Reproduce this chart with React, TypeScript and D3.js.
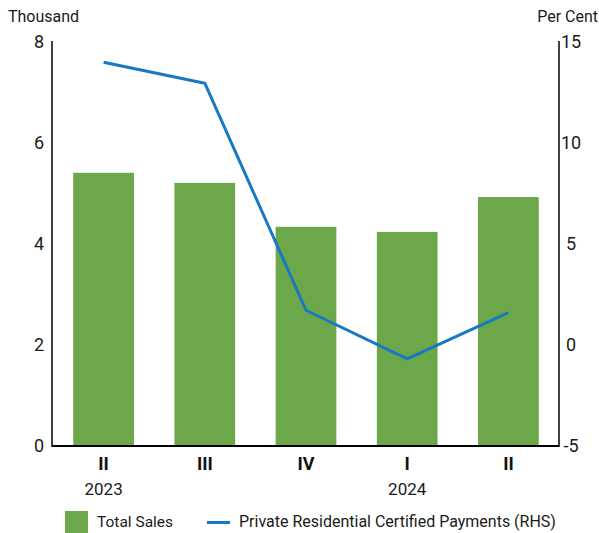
import React from "react";
import * as d3 from "d3";

const quarters = ["II", "III", "IV", "I", "II"];
const years = ["2023", "", "", "2024", ""];
const totalSales = [5.41, 5.21, 4.34, 4.24, 4.93];
const certifiedPayments = [14.0, 12.96, 1.72, -0.69, 1.6];
const leftTicks = [0, 2, 4, 6, 8];
const rightTicks = [-5, 0, 5, 10, 15];

const W = 599;
const H = 533;
const margin = { top: 42, right: 40, bottom: 87, left: 53 };
const FONT = "Roboto, 'DejaVu Sans', sans-serif";

const App = () => {
  const x = d3
    .scaleBand()
    .domain(quarters.map((_, i) => String(i)))
    .range([margin.left, W - margin.right])
    .paddingInner(0.4)
    .paddingOuter(0.2);

  const yLeft = d3.scaleLinear().domain([0, 8]).range([H - margin.bottom, margin.top]);
  const yRight = d3.scaleLinear().domain([-5, 15]).range([H - margin.bottom, margin.top]);

  const line = d3
    .line<number>()
    .x((_, i) => (x(String(i)) as number) + x.bandwidth() / 2)
    .y((d) => yRight(d));

  const x0 = margin.left - 1;
  const x1 = W - margin.right;
  const yBase = H - margin.bottom;

  return (
    <div style={{ position: "absolute", left: 0, top: 0 }}>
      <svg width={W} height={H} style={{ display: "block", fontFamily: FONT }}>
        <text x={8} y={22} fontSize={16} fill="#1a1a1a">Thousand</text>
        <text x={598} y={22} fontSize={16} fill="#1a1a1a" textAnchor="end">Per Cent</text>

        {/* bars */}
        {totalSales.map((v, i) => (
          <rect
            key={i}
            x={x(String(i))}
            y={yLeft(v)}
            width={x.bandwidth()}
            height={yLeft(0) - yLeft(v)}
            fill="#6ca74a"
          />
        ))}

        {/* line (RHS) */}
        <path d={line(certifiedPayments) || ""} fill="none" stroke="#1778c3" strokeWidth={3} strokeLinejoin="round" />

        {/* axes */}
        <line x1={x0} x2={x0} y1={margin.top - 1} y2={yBase + 1} stroke="#000" strokeWidth={1.5} />
        <line x1={x1} x2={x1} y1={margin.top - 1} y2={yBase + 1} stroke="#000" strokeWidth={1.5} />
        <line x1={x0} x2={x1} y1={yBase} y2={yBase} stroke="#000" strokeWidth={2} />

        {leftTicks.map((t) => (
          <text key={t} x={39} y={yLeft(t)} dy="0.36em" fontSize={18} textAnchor="middle" fill="#1a1a1a">
            {t}
          </text>
        ))}
        {rightTicks.map((t) => (
          <text key={t} x={571} y={yRight(t)} dy="0.36em" fontSize={18} textAnchor="middle" fill="#1a1a1a">
            {t}
          </text>
        ))}

        {quarters.map((q, i) => (
          <g key={i} transform={`translate(${(x(String(i)) as number) + x.bandwidth() / 2},0)`}>
            <text y={470} fontSize={18} fontWeight="bold" textAnchor="middle" fill="#111">{q}</text>
            {years[i] && (
              <text y={495} fontSize={17} textAnchor="middle" fill="#1a1a1a">{years[i]}</text>
            )}
          </g>
        ))}

        {/* legend */}
        <rect x={65} y={511} width={23} height={22} fill="#6ca74a" />
        <text x={97} y={527} fontSize={15.5} fill="#1a1a1a">Total Sales</text>
        <line x1={207} x2={230} y1={522.5} y2={522.5} stroke="#1778c3" strokeWidth={3} />
        <text x={239} y={527} fontSize={16} fill="#1a1a1a">Private Residential Certified Payments (RHS)</text>
      </svg>
    </div>
  );
};

export default App;
